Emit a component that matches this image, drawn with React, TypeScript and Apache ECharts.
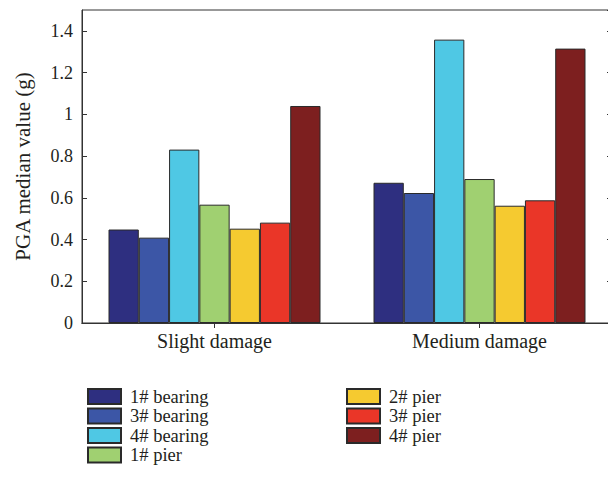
import React, { useEffect, useRef } from "react";
import * as echarts from "echarts";

const categories = ["Slight damage", "Medium damage"];
const seriesNames = ["1# bearing", "3# bearing", "4# bearing", "1# pier", "2# pier", "3# pier", "4# pier"];
const bearing1 = [0.448, 0.672];
const bearing3 = [0.409, 0.623];
const bearing4 = [0.831, 1.358];
const pier1 = [0.567, 0.69];
const pier2 = [0.452, 0.562];
const pier3 = [0.481, 0.588];
const pier4 = [1.04, 1.315];
const seriesValues = [bearing1, bearing3, bearing4, pier1, pier2, pier3, pier4];
const colors = ["#2e2f80", "#3c56a6", "#4fc8e4", "#a0d071", "#f5ca30", "#ea3628", "#7d1f1f"];

const FONT = "Liberation Serif";
const TXT = "#231f20";

export default function App() {
  const ref = useRef<HTMLDivElement>(null);
  useEffect(() => {
    const chart = echarts.init(ref.current!, null, { renderer: "svg" });
    const axisLine = { show: true, lineStyle: { color: "#333", width: 1 } };
    const legendText = { fontFamily: FONT, fontSize: 18.5, color: TXT, padding: [0, 0, 0, 4] };
    const legendItem = (n: string) => ({ name: n, icon: "rect", textStyle: legendText });
    chart.setOption({
      animation: false,
      textStyle: { fontFamily: FONT, color: TXT },
      grid: { left: 82, top: 10, right: 4, bottom: 167, show: true, borderColor: "#333", borderWidth: 1 },
      legend: [
        {
          orient: "vertical",
          left: 82,
          top: 382,
          icon: "rect",
          itemWidth: 33,
          itemHeight: 15,
          itemGap: 0.5,
          data: seriesNames.slice(0, 4).map(legendItem),
          textStyle: legendText,
        },
        {
          orient: "vertical",
          left: 341,
          top: 382,
          icon: "rect",
          itemWidth: 33,
          itemHeight: 15,
          itemGap: 0.5,
          data: seriesNames.slice(4).map(legendItem),
          textStyle: legendText,
        },
      ],
      xAxis: [
        {
          type: "category",
          data: categories,
          position: "bottom",
          axisLine,
          axisTick: { show: true, inside: true, alignWithLabel: true, length: 5, lineStyle: { color: "#333" } },
          axisLabel: { fontFamily: FONT, fontSize: 20, color: TXT, margin: 8 },
        },
        {
          type: "category",
          data: categories,
          position: "top",
          axisLine,
          axisTick: { show: true, inside: true, alignWithLabel: true, length: 5, lineStyle: { color: "#333" } },
          axisLabel: { show: false },
        },
      ],
      yAxis: [
        {
          type: "value",
          min: 0,
          max: 1.5,
          interval: 0.2,
          name: "PGA median value (g)",
          nameLocation: "middle",
          nameGap: 49,
          nameTextStyle: { fontFamily: FONT, fontSize: 21, color: TXT },
          axisLine,
          axisTick: { show: true, inside: true, length: 5, lineStyle: { color: "#333" } },
          axisLabel: { fontFamily: FONT, fontSize: 18, color: TXT, margin: 9, showMaxLabel: false },
          splitLine: { show: false },
        },
        {
          type: "value",
          min: 0,
          max: 1.5,
          interval: 0.2,
          position: "right",
          axisLine,
          axisTick: { show: true, inside: true, length: 5, lineStyle: { color: "#333" } },
          axisLabel: { show: false },
          splitLine: { show: false },
        },
      ],
      series: seriesNames.map((name, i) => ({
        name,
        type: "bar",
        data: seriesValues[i],
        barGap: "0%",
        barCategoryGap: "20%",
        itemStyle: { color: colors[i], borderColor: "#2a2a2a", borderWidth: 1 },
      })),
    });
    return () => chart.dispose();
  }, []);
  return <div ref={ref} style={{ width: 616, height: 490, margin: -8 }} />;
}
